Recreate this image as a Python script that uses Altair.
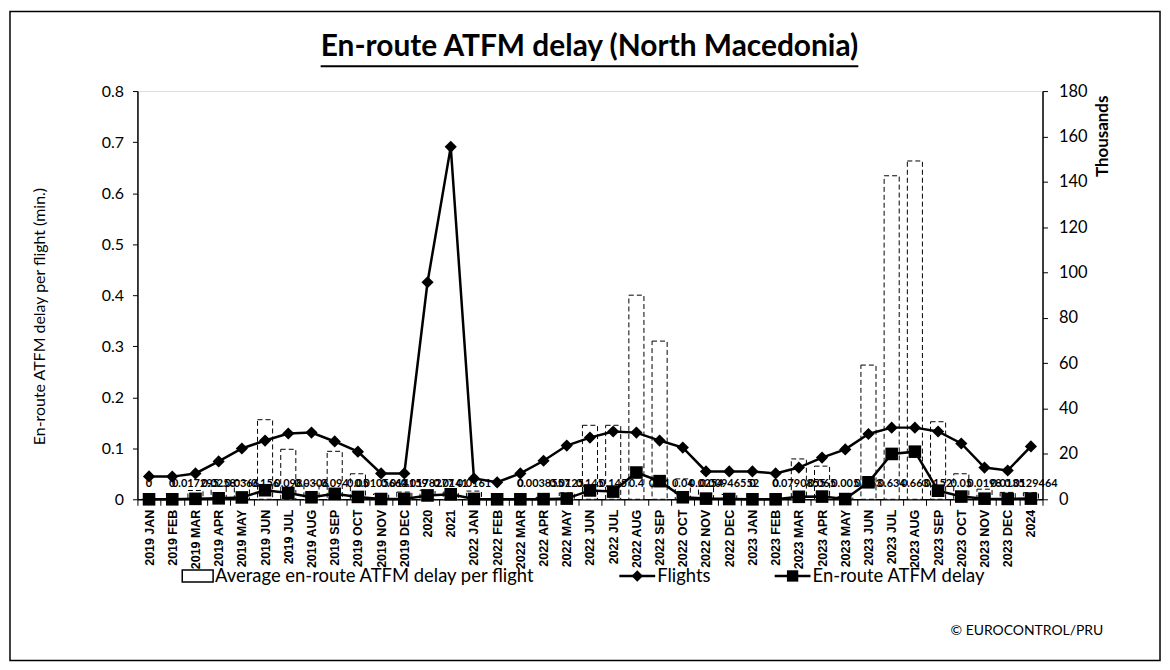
import altair as alt
import pandas as pd

# ---------------- data ----------------
categories = [
    "2019 JAN", "2019 FEB", "2019 MAR", "2019 APR", "2019 MAY", "2019 JUN",
    "2019 JUL", "2019 AUG", "2019 SEP", "2019 OCT", "2019 NOV", "2019 DEC",
    "2020", "2021",
    "2022 JAN", "2022 FEB", "2022 MAR", "2022 APR", "2022 MAY", "2022 JUN",
    "2022 JUL", "2022 AUG", "2022 SEP", "2022 OCT", "2022 NOV", "2022 DEC",
    "2023 JAN", "2023 FEB", "2023 MAR", "2023 APR", "2023 MAY", "2023 JUN",
    "2023 JUL", "2023 AUG", "2023 SEP", "2023 OCT", "2023 NOV", "2023 DEC",
    "2024",
]

# Flights (thousands, right axis)
flights = [
    10.1, 10.0, 11.4, 16.7, 22.4, 25.9, 29.0, 29.4, 25.5, 21.0, 11.4, 11.4,
    95.7, 155.4,
    9.2, 7.5, 11.4, 17.0, 23.7, 27.2, 29.9, 29.4, 25.9, 22.8, 12.3, 12.3,
    12.3, 11.4, 14.0, 18.4, 22.0, 28.8, 31.6, 31.6, 29.9, 24.6, 14.0, 12.7,
    23.3,
]

# En-route ATFM delay (thousand minutes, right axis)
delay = [
    0.0, 0.0, 0.2, 0.43, 0.82, 4.0, 2.8, 0.9, 2.4, 1.05, 0.12, 0.16,
    1.7, 2.2,
    0.15, 0.0, 0.0, 0.07, 0.3, 3.9, 3.4, 11.8, 8.0, 0.9, 0.3, 0.12,
    0.0, 0.0, 1.1, 1.2, 0.1, 7.5, 20.0, 21.0, 3.8, 1.2, 0.28, 0.17,
    0.3,
]

# Average en-route ATFM delay per flight (minutes, left axis)
avg_delay = [
    0, 0, 0.017295, 0.0258, 0.0366, 0.156, 0.098, 0.0306, 0.094, 0.05,
    0.01056614, 0.014159,
    0.0178277, 0.0141,
    0.0161, 0, 0, 0.0038557, 0.0125, 0.145, 0.145, 0.40, 0.31, 0.04,
    0.0254, 0.009465524,
    0, 0, 0.0790855, 0.065, 0.005, 0.263, 0.634, 0.663, 0.152, 0.05,
    0.0198, 0.0135,
    0.0129464,
]

left_ticks = [0, 0.1, 0.2, 0.3, 0.4, 0.5, 0.6, 0.7, 0.8]
right_ticks = [0, 20, 40, 60, 80, 100, 120, 140, 160, 180]

df = pd.DataFrame({
    "cat": categories,
    "flights": flights,
    "delay": delay,
    "avg": avg_delay,
    "lab": [("%g" % v) if v != 0 else "0" for v in avg_delay],
})

W, H = 909, 410
FONT = "Lato"

x_enc = alt.X(
    "cat:N", sort=categories,
    scale=alt.Scale(paddingInner=0, paddingOuter=0),
    axis=alt.Axis(
        title=None, labelAngle=270, labelFont="Liberation Sans",
        labelFontWeight="bold", labelFontSize=12.5, labelColor="black",
        domainColor="black", domainWidth=1.5, tickColor="black",
        tickBand="extent", tickSize=6, labelPadding=4, grid=False,
    ),
)

left_axis = alt.Axis(
    orient="left", values=left_ticks, format=".1~f", grid=False,
    title="En-route ATFM delay per flight (min.)",
    titleFont=FONT, titleFontSize=16, titleFontWeight="normal",
    titleColor="black", titleAngle=270, titleX=-98, titleY=226,
    titleAlign="center", titleBaseline="middle",
    labelFont=FONT, labelFontSize=16, labelColor="black",
    labelPadding=9, tickSize=5, tickColor="black",
    domainColor="black", domainWidth=1.5,
)
left_scale = alt.Scale(domain=[0, 0.8], nice=False, zero=True)

right_axis = alt.Axis(
    orient="right", values=right_ticks, grid=False, title="Thousands",
    titleFont=FONT, titleFontSize=17, titleFontWeight="bold",
    titleColor="black", titleAngle=270, titleX=60, titleY=45,
    titleAlign="center", titleBaseline="middle",
    labelFont=FONT, labelFontSize=16.5, labelColor="black",
    labelPadding=11, tickSize=5, tickColor="black",
    domainColor="black", domainWidth=1.5,
)
right_scale = alt.Scale(domain=[0, 180], nice=False, zero=True)

bars = alt.Chart(df).mark_bar(
    width=alt.RelativeBandSize(0.65), fill="white", stroke="black",
    strokeDash=[5, 3], strokeWidth=1,
).encode(
    x=x_enc,
    y=alt.Y("avg:Q", scale=left_scale, axis=left_axis),
)

labels = alt.Chart(df).transform_calculate(zero="0").mark_text(
    dy=-15, font=FONT, fontSize=11, fontWeight="bold", color="black",
).encode(
    x=x_enc,
    y=alt.Y("zero:Q", scale=left_scale, axis=left_axis),
    text="lab:N",
)

left = alt.layer(bars, labels)

flights_line = alt.Chart(df).mark_line(
    color="black", strokeWidth=2.5,
    point=alt.OverlayMarkDef(shape="diamond", size=150, filled=True,
                             color="black", opacity=1),
).encode(
    x=x_enc,
    y=alt.Y("flights:Q", scale=right_scale, axis=right_axis),
)

delay_line = alt.Chart(df).mark_line(
    color="black", strokeWidth=2.5,
    point=alt.OverlayMarkDef(shape="square", size=160, filled=True,
                             color="black", opacity=1),
).encode(
    x=x_enc,
    y=alt.Y("delay:Q", scale=right_scale, axis=right_axis),
)

right = alt.layer(flights_line, delay_line)

# ---------------- decorations: frame, title, legend, credit ----------------
one = pd.DataFrame({"a": [0]})
base = alt.Chart(one)

frame = base.mark_rect(fillOpacity=0, stroke="black", strokeWidth=1.5).encode(
    x=alt.value(-128), x2=alt.value(1027), y=alt.value(-80), y2=alt.value(572))

title = base.mark_text(align="center", baseline="middle", font=FONT,
                       fontSize=30, fontWeight="bold", color="black").encode(
    x=alt.value(454), y=alt.value(-44),
    text=alt.value("En-route ATFM delay (North Macedonia)"))
underline = base.mark_rule(color="black", strokeWidth=2).encode(
    x=alt.value(184), x2=alt.value(724), y=alt.value(-25))

LEG_Y = 487
LEG_FS = 18.5
leg_box = base.mark_rect(fill="white", stroke="black", strokeWidth=1.5).encode(
    x=alt.value(45), x2=alt.value(76), y=alt.value(LEG_Y - 6), y2=alt.value(LEG_Y + 6))
leg_txt1 = base.mark_text(align="left", baseline="middle", font=FONT,
                          fontSize=LEG_FS, color="black").encode(
    x=alt.value(78), y=alt.value(LEG_Y),
    text=alt.value("Average en-route ATFM delay per flight"))
leg_l2 = base.mark_rule(color="black", strokeWidth=2.5).encode(
    x=alt.value(484), x2=alt.value(520), y=alt.value(LEG_Y))
leg_p2 = base.mark_point(shape="diamond", size=130, filled=True, color="black", opacity=1).encode(
    x=alt.value(502), y=alt.value(LEG_Y))
leg_txt2 = base.mark_text(align="left", baseline="middle", font=FONT,
                          fontSize=LEG_FS, color="black").encode(
    x=alt.value(522), y=alt.value(LEG_Y), text=alt.value("Flights"))
leg_l3 = base.mark_rule(color="black", strokeWidth=2.5).encode(
    x=alt.value(640), x2=alt.value(676), y=alt.value(LEG_Y))
leg_p3 = base.mark_point(shape="square", size=130, filled=True, color="black", opacity=1).encode(
    x=alt.value(658), y=alt.value(LEG_Y))
leg_txt3 = base.mark_text(align="left", baseline="middle", font=FONT,
                          fontSize=LEG_FS, color="black").encode(
    x=alt.value(678), y=alt.value(LEG_Y), text=alt.value("En-route ATFM delay"))
credit = base.mark_text(align="right", baseline="middle", font=FONT,
                        fontSize=14, color="black").encode(
    x=alt.value(970), y=alt.value(542), text=alt.value("© EUROCONTROL/PRU"))

deco = alt.layer(frame, title, underline, leg_box, leg_txt1, leg_l2, leg_p2,
                 leg_txt2, leg_l3, leg_p3, leg_txt3, credit)

chart = alt.layer(left, right, deco).resolve_scale(y="independent").properties(
    width=W, height=H,
    padding={"left": 130, "top": 82, "right": 120, "bottom": 165},
    autosize=alt.AutoSizeParams(type="none"),
).configure_view(stroke=None).configure(background="white")

chart.save("out.html", embed_options={"renderer": "svg", "actions": False})
